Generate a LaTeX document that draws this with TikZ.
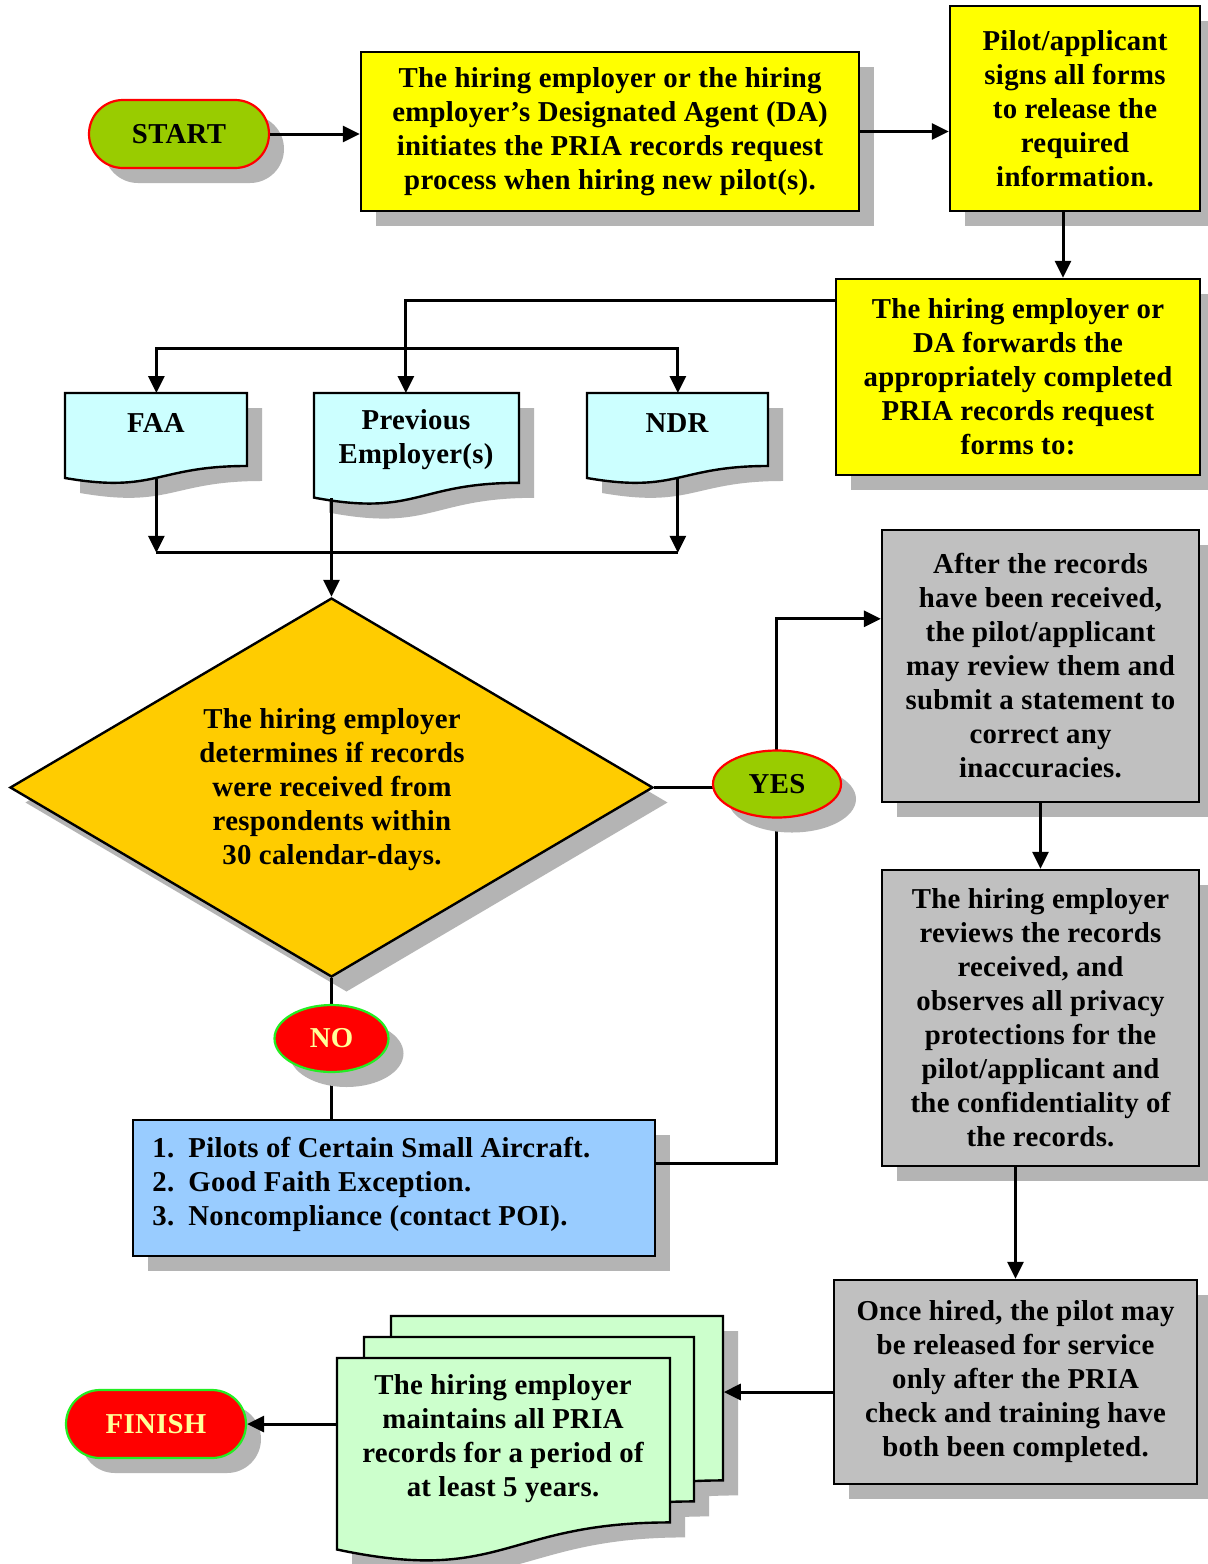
\documentclass[tikz,border=0pt]{standalone}
\usepackage{fontspec}
\setmainfont[LetterSpace=1.0]{Liberation Serif}
\usetikzlibrary{shapes.geometric,shadows,arrows.meta,calc}
\definecolor{yel}{HTML}{FFFF00}
\definecolor{grn}{HTML}{99CC00}
\definecolor{lcyan}{HTML}{CCFFFF}
\definecolor{org}{HTML}{FFCC00}
\definecolor{lblue}{HTML}{99CCFF}
\definecolor{gry}{HTML}{C0C0C0}
\definecolor{lgrn}{HTML}{CCFFCC}
\definecolor{rd}{HTML}{FF0000}
\definecolor{bgrn}{HTML}{22EE22}
\definecolor{lyel}{HTML}{FFFF99}
\definecolor{shc}{HTML}{B4B4B4}
\newcommand{\docshadow}[4]{%
  \fill[shc] ({#1+15},{#2+15}) -- ({#1+#3+15},{#2+15}) -- ({#1+#3+15},{#2+0.802*#4+15})
    .. controls ({#1+#3/2+15},{#2+0.802*#4+15}) and ({#1+#3/2+15},{#2+1.107*#4+15}) .. ({#1+15},{#2+0.934*#4+15}) -- cycle;}
\newcommand{\docbody}[6]{%
  \filldraw[fill=#6, draw=black, line width=1.2pt, line join=miter] (#2,#3) -- ({#2+#4},#3) -- ({#2+#4},{#3+0.802*#5})
    .. controls ({#2+#4/2},{#3+0.802*#5}) and ({#2+#4/2},{#3+1.107*#5}) .. (#2,{#3+0.934*#5}) -- cycle;
  \node[inner sep=0, minimum width={#4*0.5pt}, minimum height={0.934*#5*0.5pt}, anchor=north west] (#1) at (#2,#3) {};}
\begin{document}
\begin{tikzpicture}[x=0.5pt,y=-0.5pt,
  base/.style={font=\fontsize{14.4}{17}\selectfont\bfseries, align=center, inner sep=0},
  shd/.style={drop shadow={shadow xshift=7.5pt, shadow yshift=-7.5pt, opacity=1, fill=shc}},
  box/.style={base, draw, line width=1.2pt, shd},
  term/.style={base, draw, line width=1.1pt, rounded corners=17pt, minimum width=90pt, minimum height=34pt, shd},
  oval/.style={base, ellipse, draw, line width=1.1pt, shd},
  ln/.style={line width=1.5pt},
  arr/.style={line width=1.5pt, -{Triangle[length=8.5pt,width=8pt]}},
  dblarr/.style={line width=1.5pt, {Triangle[length=8.5pt,width=8pt]}-{Triangle[length=8.5pt,width=8pt]}}]
\useasboundingbox (0,0) rectangle (1207,1564);
\fill[white] (0,0) rectangle (1207,1564);

% top row
\node[term, fill=grn, draw=rd] (start) at (179,134) {START};
\node[box, fill=yel, minimum width=249pt, minimum height=79.5pt] (b1) at (610,131.5)
  {The hiring employer or the hiring\\employer’s Designated Agent (DA)\\initiates the PRIA records request\\process when hiring new pilot(s).};
\node[box, fill=yel, minimum width=125pt, minimum height=102.5pt] (b2) at (1075,108.5)
  {Pilot/applicant\\signs all forms\\to release the\\required\\information.};
\node[box, fill=yel, minimum width=182pt, minimum height=98pt] (b3) at (1018,377)
  {The hiring employer or\\DA forwards the\\appropriately completed\\PRIA records request\\forms to:};

% recipients
\docshadow{65}{393}{182}{91}
\docbody{faa}{65}{393}{182}{91}{lcyan}
\docshadow{314}{393}{205}{112}
\docbody{prev}{314}{393}{205}{112}{lcyan}
\docshadow{587}{393}{181}{91}
\docbody{ndr}{587}{393}{181}{91}{lcyan}
\node[base] (faaT) at (156,423) {FAA};
\node[base] (prevT) at (416,440) {Previous\\Employer(s)};
\node[base] (ndrT) at (677,423) {NDR};

% decision
\node[diamond, draw, fill=org, line width=1.2pt, minimum width=321.5pt, minimum height=189.5pt, inner sep=0, shd] (dia) at (331.5,787.5) {};
\node[base] (diaT) at (332,790) {The hiring employer\\determines if records\\were received from\\respondents within\\30 calendar-days.};

% right column
\node[box, fill=gry, minimum width=158.5pt, minimum height=136pt] (g1) at (1040.5,666)
  {After the records\\have been received,\\the pilot/applicant\\may review them and\\submit a statement to\\correct any\\inaccuracies.};
\node[box, fill=gry, minimum width=158.5pt, minimum height=148pt] (g2) at (1040.5,1018)
  {The hiring employer\\reviews the records\\received, and\\observes all privacy\\protections for the\\pilot/applicant and\\the confidentiality of\\the records.};
\node[box, fill=gry, minimum width=181.5pt, minimum height=102pt] (g3) at (1015.5,1382)
  {Once hired, the pilot may\\be released for service\\only after the PRIA\\check and training have\\both been completed.};

% exceptions box
\node[box, fill=lblue, minimum width=261pt, minimum height=68pt] (blue) at (394,1188) {};
\node[base, align=left, anchor=west] (blueT) at (152,1184)
  {\makebox[18pt][l]{1.}Pilots of Certain Small Aircraft.\\
   \makebox[18pt][l]{2.}Good Faith Exception.\\
   \makebox[18pt][l]{3.}Noncompliance (contact POI).};

% records stack
\docshadow{391}{1316}{332}{205}
\docshadow{364}{1337}{330}{205}
\docshadow{337}{1358}{333}{205}
\docbody{stk3}{391}{1316}{332}{205}{lgrn}
\docbody{stk2}{364}{1337}{330}{205}{lgrn}
\docbody{stk1}{337}{1358}{333}{205}{lgrn}
\node[base] (stkT) at (503,1439) {The hiring employer\\maintains all PRIA\\records for a period of\\at least 5 years.};

\node[term, fill=rd, draw=bgrn, text=lyel] (fin) at (156,1424) {FINISH};

% connectors
\draw[arr] (start.east) -- (start.east -| b1.west);
\draw[arr] (b1.east) -- (b1.east -| b2.west);
\coordinate (b2s) at ($(b2.south)+(-12,0)$);
\draw[arr] (b2s) -- (b2s |- b3.north);
\coordinate (b3w) at ($(b3.north west)+(0,23)$);
\coordinate (prevIn) at ($(prev.north)+(-11,0)$);
\draw[arr] (b3w) -| (prevIn);
\draw[dblarr] (faa.north) -- ++(0,-45) -| (ndr.north);
\draw[arr] (faa.south) -- ++(0,74) coordinate (fj);
\draw[arr] (ndr.south) -- (ndr.south |- fj);
\draw[ln] (fj) -- (ndr.south |- fj);
\draw[arr] (dia.north |- prev.south) -- (dia.north);

\coordinate (g1in) at ($(g1.north west)+(0,90)$);
\coordinate (bl) at ($(blue.north east)+(0,45)$);
\draw[ln] (dia.east) -- (dia.east -| 776,0);
\draw[arr] (776,787.5) |- (g1in);
\draw[ln] (bl) -| (776,787.5);
\node[oval, fill=grn, draw=rd, minimum width=64pt, minimum height=33.5pt] (yes) at (777,784) {YES};

\draw[ln] (dia.south) -- (dia.south |- blue.north);
\node[oval, fill=rd, draw=bgrn, text=lyel, minimum width=57pt, minimum height=33.5pt] (no) at (331.5,1038.5) {NO};

\draw[arr] (g1.south) -- (g2.north);
\draw[arr] (g3.north |- g2.south) -- (g3.north);
\coordinate (g3w) at ($(g3.west)+(0,10)$);
\draw[arr] (g3w) -- (g3w -| stk3.east);
\draw[arr] (stk1.west |- fin.east) -- (fin.east);
\end{tikzpicture}
\end{document}
